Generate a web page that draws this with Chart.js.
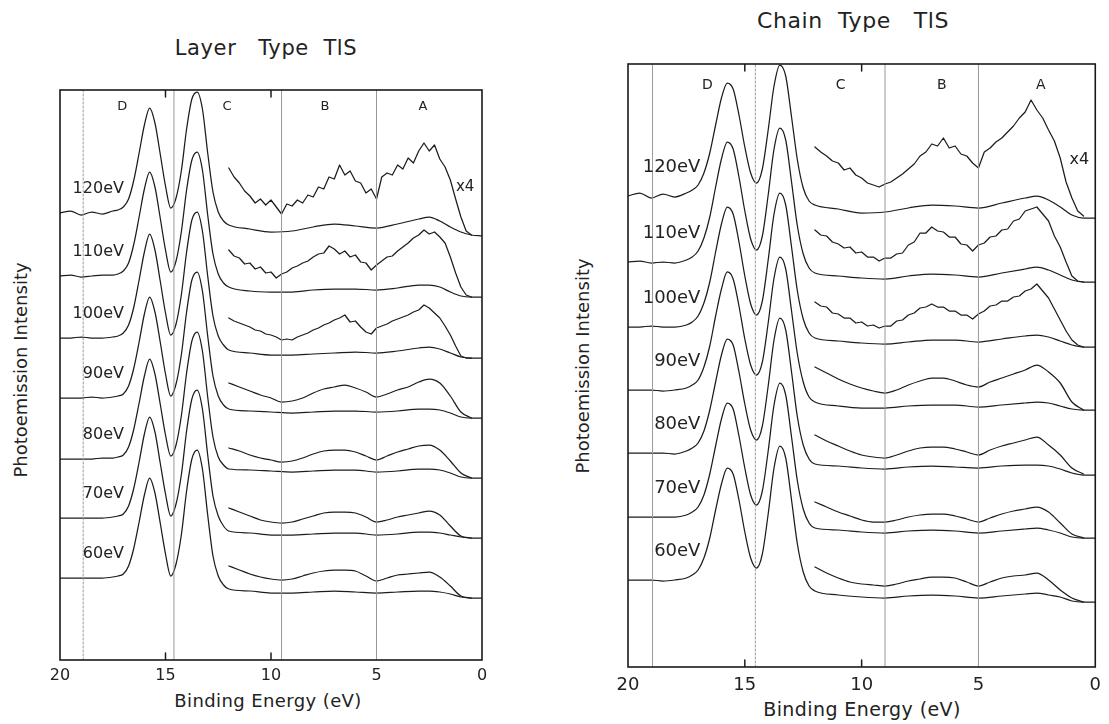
<!DOCTYPE html>
<html>
<head>
<meta charset="utf-8">
<script src="https://cdn.jsdelivr.net/npm/chart.js@4.4.1/dist/chart.umd.min.js"></script>
<style>
html,body{margin:0;padding:0;background:#fff;width:1109px;height:724px;overflow:hidden;}
.wrap{position:absolute;}
.t{position:absolute;font-family:"DejaVu Sans",sans-serif;color:#222;white-space:pre;line-height:1;transform:translate(-50%,-50%);}
.rot{transform:translate(-50%,-50%) rotate(-90deg);}
</style>
</head>
<body>
<div class="wrap" style="left:40px;top:70px;width:462px;height:620px"><canvas id="cl" width="462" height="620"></canvas></div>
<div class="wrap" style="left:608px;top:44px;width:501px;height:653px"><canvas id="cr" width="501" height="653"></canvas></div>

<div class="t" style="left:266px;top:48px;font-size:21px;letter-spacing:0.6px">Layer   Type  TlS</div>
<div class="t" style="left:853px;top:21px;font-size:22px;letter-spacing:0.6px">Chain  Type   TlS</div>
<div class="t rot" style="left:21px;top:370px;font-size:18px">Photoemission Intensity</div>
<div class="t rot" style="left:583px;top:366px;font-size:18px">Photoemission Intensity</div>
<div class="t" style="left:268px;top:701px;font-size:18px;letter-spacing:0.4px">Binding Energy (eV)</div>
<div class="t" style="left:862px;top:709px;font-size:19px;letter-spacing:0.4px">Binding Energy (eV)</div>

<script>
// ---------------- DATA ----------------
const photonEnergies = ['120eV','110eV','100eV','90eV','80eV','70eV','60eV'];
const tickValues = [20, 15, 10, 5, 0];
const bandNames = ['D', 'C', 'B', 'A'];

// binding energy grid of the full spectra (eV)
const baseEnergy = [20,19.5,19,18.5,18,17.5,17.25,17,16.75,16.5,16.25,16,15.75,15.5,15.25,15,14.75,14.5,14.25,14,13.75,13.5,13.25,13,12.75,12.5,12.25,12,11,10,9,8,7,6,5,4,3,2.5,2,1.5,1,0.5,0];
// binding energy grids of the x4 magnified valence-band spectra (eV)
const x4EnergyFine = [12,11.75,11.5,11.25,11,10.75,10.5,10.25,10,9.75,9.5,9.25,9,8.75,8.5,8.25,8,7.75,7.5,7.25,7,6.75,6.5,6.25,6,5.75,5.5,5.25,5,4.75,4.5,4.25,4,3.75,3.5,3.25,3,2.75,2.5,2.25,2,1.75,1.5,1.25,1,0.75,0.5];
const x4EnergyCoarse = [12,11.5,11,10.5,10,9.5,9,8.5,8,7.5,7,6.5,6,5.5,5,4.5,4,3.5,3,2.5,2,1.5,1,0.5];

// ---- Layer type TlS ----
const layerOffset = [447, 384, 322, 262, 201, 142, 82];
const layer120 = [0,2,-2,1,-1,2, 3,6,14,33,60,88,105,90,59,27,5,15,42,84,114,121,104,60,21,1,-8,-12, -16,-19,-18,-14,-11,-13,-15,-11,-6,-4,-8,-14,-19,-22,-23];
const layer110 = [0,1,-1,0,1,1, 2,5,13,32,59,87,104,89,58,26,4,15,44,86,116,124,106,61,22,2,-7,-11, -15,-16,-16,-14,-13,-13,-14,-12,-9,-9,-11,-16,-20,-21,-21];
const layer100 = [0,0,1,0,0,1, 2,5,13,31,58,86,104,88,57,25,3,14,43,86,118,126,107,62,22,2,-7,-12, -15,-17,-17,-16,-15,-14,-15,-13,-10,-9,-11,-15,-19,-20,-20];
const layer90  = [0,0,0,1,0,1, 2,4,12,30,56,84,101,86,56,24,2,14,43,86,118,126,107,62,22,2,-7,-11, -13,-14,-15,-14,-13,-13,-14,-13,-11,-11,-12,-15,-19,-20,-20];
const layer80  = [0,0,0,0,1,1, 2,4,12,30,56,83,100,85,55,24,3,14,43,86,118,127,108,62,22,2,-6,-10, -11,-12,-13,-12,-11,-11,-13,-12,-10,-10,-11,-14,-18,-19,-19];
const layer70  = [0,0,0,0,0,1, 2,4,12,30,56,84,101,86,55,24,2,14,43,87,119,128,109,63,22,2,-8,-13, -15,-17,-17,-16,-15,-15,-17,-16,-14,-14,-15,-17,-19,-20,-20];
const layer60  = [0,0,0,0,0,1, 2,4,12,30,56,83,100,85,55,24,2,14,43,87,119,128,109,63,22,2,-7,-11, -13,-15,-15,-14,-13,-14,-15,-14,-13,-13,-14,-16,-19,-20,-20];
const layerX4_120 = [45,36,30,22,17,10,14,8,13,6, -1,9,7,13,10,18,16,26,24,36, 34,48,38,42,32,30,20,24,14,36, 40,38,48,44,55,50,62,70,62,68, 54,46,33,14,-4,-18,-22];
const layerX4_110 = [26,20,18,12,13,7,9,3,4,-2, 2,4,8,10,13,15,19,22,23,30, 27,22,25,19,21,14,13,6,11,15, 19,20,25,29,33,38,41,46,42,44, 39,33,19,3,-11,-19,-21];
const layerX4_100 = [20,17,15,13,11,8,7,4,3,1, -2,-1,-2,1,3,5,8,10,13,15, 18,20,23,16,17,11,6,4,10,12, 14,17,19,21,23,26,28,33,30,25, 20,12,3,-8,-18,-20,-20];
const layerX4_90 = [15,11,7,3,0,-4,-3,0,5,9, 11,13,10,6,1,4,8,11,16,19, 15,2,-14,-20];
const layerX4_80 = [11,8,4,1,-1,-3,-2,1,5,8, 9,9,7,3,-1,3,7,10,13,14, 9,-2,-14,-19];
const layerX4_70 = [10,6,2,-2,-4,-5,-4,-1,2,5, 6,6,5,1,-4,-2,1,3,5,7, 3,-8,-18,-20];
const layerX4_60 = [12,8,4,1,-1,-2,-1,2,5,7, 8,8,7,2,-3,0,3,4,5,6, 1,-8,-18,-20];
const layerMarkers = [18.9, 14.6, 9.5, 5.0];

// ---- Chain type TlS ----
const chainOffset = [471, 405, 340, 277, 214, 150, 87];
const chain120 = [0,3,-2,2,-1,3, 6,11,23,43,71,98,113,107,81,49,23,13,27,66,110,131,120,79,36,8,-5,-9, -13,-17,-16,-12,-9,-10,-12,-7,-2,0,-4,-11,-19,-22,-22];
const chain110 = [0,1,-1,0,-1,2, 5,11,24,45,75,103,120,113,85,51,23,12,26,67,113,134,122,80,36,8,-6,-11, -14,-16,-17,-14,-12,-13,-15,-11,-7,-5,-8,-13,-18,-20,-20];
const chain100 = [0,0,1,0,0,2, 5,11,24,45,75,103,120,113,85,51,23,12,26,67,113,134,122,80,36,8,-6,-11, -14,-16,-17,-15,-13,-13,-15,-12,-9,-8,-10,-14,-18,-20,-20];
const chain90  = [0,0,0,-1,0,2, 5,10,23,44,74,101,118,111,84,51,25,15,28,67,112,133,121,79,36,8,-7,-12, -16,-18,-18,-16,-15,-15,-17,-15,-13,-12,-13,-16,-19,-20,-20];
const chain80  = [0,0,0,0,-1,2, 5,10,22,43,71,98,114,108,81,49,23,13,27,67,113,135,123,81,36,8,-6,-11, -13,-15,-16,-14,-13,-14,-15,-13,-12,-12,-13,-16,-20,-22,-22];
const chain70  = [0,0,0,0,0,2, 5,10,22,43,71,98,114,108,81,49,22,12,26,66,112,134,122,80,36,8,-6,-11, -13,-15,-16,-14,-13,-14,-16,-14,-12,-11,-13,-16,-20,-21,-21];
const chain60  = [0,0,0,-1,0,2, 5,10,22,42,70,96,112,106,80,48,22,12,26,66,112,134,122,80,36,8,-6,-11, -15,-17,-18,-16,-15,-16,-18,-16,-14,-13,-15,-17,-21,-22,-22];
const chainX4_120 = [49,44,40,35,33,26,28,21,18,13, 11,9,12,14,18,22,27,32,40,44, 52,50,58,48,50,42,40,33,28,44, 48,54,58,64,70,78,84,96,86,78, 66,55,38,14,-2,-15,-20];
const chainX4_110 = [32,27,26,20,18,14,15,9,10,5, 5,1,4,4,8,9,17,20,29,29, 35,31,30,25,25,18,17,11,17,19, 25,26,32,33,41,43,51,53,55,48, 41,26,15,0,-14,-19,-20];
const chainX4_100 = [25,21,20,14,13,9,9,4,5,1, 2,-1,1,1,6,7,12,14,19,20, 23,20,20,16,16,12,12,8,13,16, 21,22,26,26,30,31,36,38,43,36, 29,18,7,-4,-13,-18,-20];
const chainX4_90 = [23,17,11,6,2,-1,-3,0,5,9, 12,12,9,5,3,8,12,16,20,25, 18,7,-12,-20];
const chainX4_80 = [18,12,7,2,-2,-4,-5,-2,2,5, 6,6,4,1,-2,3,7,10,13,16, 8,-2,-15,-21];
const chainX4_70 = [15,10,5,1,-3,-5,-5,-3,0,2, 3,3,1,-2,-5,-1,3,6,8,10, 5,-6,-17,-21];
const chainX4_60 = [13,7,2,-2,-4,-5,-6,-4,-1,1, 3,3,2,-2,-6,-2,2,4,5,7, 0,-10,-18,-22];
const chainMarkers = [18.95, 14.55, 9.0, 5.0];

// ---------------- DRAWING ----------------
const FONT = '"DejaVu Sans", sans-serif';
const LINE = '#1c1c1c';

const framePlugin = {
  id: 'frame',
  afterDatasetsDraw(chart) {
    const { ctx, chartArea: a } = chart;
    ctx.save();
    ctx.strokeStyle = '#1a1a1a';
    ctx.lineWidth = 1.6;
    ctx.strokeRect(a.left, a.top, a.right - a.left, a.bottom - a.top);
    ctx.restore();
  }
};
const textPlugin = {
  id: 'texts',
  afterDatasetsDraw(chart, args, opts) {
    const { ctx, scales: { x, y } } = chart;
    ctx.save();
    ctx.fillStyle = '#222';
    ctx.textBaseline = 'middle';
    (opts.items || []).forEach(it => {
      ctx.font = it.size + 'px ' + FONT;
      ctx.textAlign = it.align || 'center';
      ctx.fillText(it.text, x.getPixelForValue(it.e), y.getPixelForValue(it.v));
    });
    ctx.restore();
  }
};

function series(energy, values, offset) {
  return energy.map((e, i) => ({ x: e, y: offset + values[i] }));
}

function build(canvasId, p) {
  const ds = [];
  p.markers.forEach((e, i) => ds.push({
    data: [{ x: e, y: 0 }, { x: e, y: p.ymax }],
    borderColor: '#999', borderWidth: 1, borderDash: p.dashed[i] ? [2, 2] : [],
    pointRadius: 0, tension: 0
  }));
  [15, 10].forEach(e => {
    ds.push({ data: [{ x: e, y: 0 }, { x: e, y: p.tick }], borderColor: LINE, borderWidth: 1.5, pointRadius: 0 });
    ds.push({ data: [{ x: e, y: p.ymax - p.tick }, { x: e, y: p.ymax }], borderColor: LINE, borderWidth: 1.5, pointRadius: 0 });
  });
  p.base.forEach((arr, i) => ds.push({
    data: series(baseEnergy, arr, p.offset[i]),
    borderColor: LINE, borderWidth: 1.25, pointRadius: 0, cubicInterpolationMode: 'monotone'
  }));
  p.x4.forEach((arr, i) => {
    const fine = arr.length === x4EnergyFine.length;
    ds.push({
      data: series(fine ? x4EnergyFine : x4EnergyCoarse, arr, p.offset[i]),
      borderColor: LINE, borderWidth: 1.25, pointRadius: 0,
      tension: 0, cubicInterpolationMode: fine ? 'default' : 'monotone'
    });
  });

  const items = [];
  photonEnergies.forEach((t, i) => items.push({ text: t, e: p.labelE, v: p.offset[i] + p.labelDy, size: p.labelSize, align: 'right' }));
  bandNames.forEach((t, i) => items.push({ text: t, e: p.bandE[i], v: p.bandV, size: p.bandSize }));
  items.push({ text: 'x4', e: p.x4E, v: p.offset[0] + p.x4Dy, size: p.x4Size });

  return new Chart(document.getElementById(canvasId), {
    type: 'line',
    data: { datasets: ds },
    options: {
      responsive: false, animation: false, events: [],
      layout: { padding: p.padding },
      plugins: { legend: { display: false }, tooltip: { enabled: false }, texts: { items } },
      elements: { point: { radius: 0 }, line: { borderCapStyle: 'round', borderJoinStyle: 'round' } },
      scales: {
        x: {
          type: 'linear', min: 0, max: 20, reverse: true,
          afterFit(s) { s.height = 30; },
          afterBuildTicks(s) { s.ticks = tickValues.map(v => ({ value: v })); },
          ticks: { padding: p.tickPad, color: '#222', font: { family: FONT, size: p.tickSize }, maxRotation: 0, autoSkip: false },
          grid: { display: false, drawTicks: false }, border: { display: false }
        },
        y: { display: false, min: 0, max: p.ymax }
      }
    },
    plugins: [framePlugin, textPlugin]
  });
}

build('cl', {
  ymax: 570, tick: 7, padding: { left: 20, right: 20, top: 20, bottom: 0 }, tickPad: 6, tickSize: 16,
  offset: layerOffset, markers: layerMarkers, dashed: [true, false, false, false],
  base: [layer120, layer110, layer100, layer90, layer80, layer70, layer60],
  x4: [layerX4_120, layerX4_110, layerX4_100, layerX4_90, layerX4_80, layerX4_70, layerX4_60],
  labelE: 16.97, labelDy: 24, labelSize: 16,
  bandE: [17.05, 12.08, 7.44, 2.8], bandV: 553, bandSize: 13,
  x4E: 0.8, x4Dy: 26, x4Size: 15
});
build('cr', {
  ymax: 603, tick: 7, padding: { left: 20, right: 9, top: 20, bottom: 0 }, tickPad: 8, tickSize: 18,
  offset: chainOffset, markers: chainMarkers, dashed: [false, true, false, false],
  base: [chain120, chain110, chain100, chain90, chain80, chain70, chain60],
  x4: [chainX4_120, chainX4_110, chainX4_100, chainX4_90, chainX4_80, chainX4_70, chainX4_60],
  labelE: 16.9, labelDy: 29, labelSize: 18,
  bandE: [16.6, 10.9, 6.57, 2.33], bandV: 582, bandSize: 14,
  x4E: 0.68, x4Dy: 36, x4Size: 16
});
</script>
</body>
</html>
